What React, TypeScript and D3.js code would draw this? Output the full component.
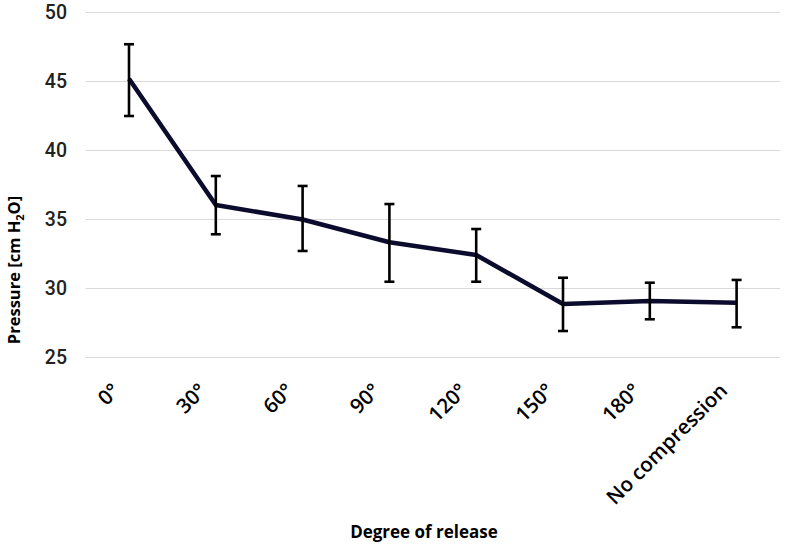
import React from "react";
import * as d3 from "d3";

const categories = ["0°", "30°", "60°", "90°", "120°", "150°", "180°", "No compression"];
const means = [45.2, 36.05, 35.0, 33.35, 32.43, 28.88, 29.09, 28.97];
const upper = [47.7, 38.15, 37.43, 36.12, 34.31, 30.78, 30.42, 30.62];
const lower = [42.5, 33.93, 32.72, 30.49, 30.49, 26.92, 27.77, 27.19];
const yTicks = [25, 30, 35, 40, 45, 50];

const W = 785;
const H = 546;

export default function App() {
  const x = d3.scaleBand<string>().domain(categories).range([85.6, 780]);
  const y = d3.scaleLinear().domain([25, 50]).range([357.5, 12.5]);
  const cx = (c: string) => (x(c) as number) + x.bandwidth() / 2;
  const line = d3
    .line<number>()
    .x((_, i) => cx(categories[i]))
    .y((d) => y(d));
  const cap = 5;

  return (
    <svg width={W} height={H} style={{ position: "absolute", left: 0, top: 0, background: "#fff" }}>
      <rect width={W} height={H} fill="#fff" />
      {yTicks.map((t) => (
        <g key={t}>
          <line x1={85.6} x2={780} y1={y(t)} y2={y(t)} stroke="#d9d9d9" strokeWidth={1.2} />
          <text
            x={67}
            y={y(t)}
            dy="0.35em"
            textAnchor="end"
            fontFamily="Roboto, 'Liberation Sans', sans-serif"
            fontWeight={500}
            fontSize={19.5}
            fill="#222"
          >
            {t}
          </text>
        </g>
      ))}
      <path d={line(means) || ""} fill="none" stroke="#0b0b2e" strokeWidth={4.5} strokeLinejoin="round" />
      {categories.map((c, i) => (
        <g key={c} stroke="#000" strokeWidth={2.6}>
          <line x1={cx(c)} x2={cx(c)} y1={y(upper[i])} y2={y(lower[i])} />
          <line x1={cx(c) - cap} x2={cx(c) + cap} y1={y(upper[i])} y2={y(upper[i])} />
          <line x1={cx(c) - cap} x2={cx(c) + cap} y1={y(lower[i])} y2={y(lower[i])} />
        </g>
      ))}
      {categories.map((c) => (
        <text
          key={"l" + c}
          transform={`translate(${cx(c) - 8},${392}) rotate(-45)`}
          textAnchor="end"
          fontFamily="'Open Sans', sans-serif"
          fontWeight={600}
          fontSize={20.5}
          fill="#000"
        >
          {c}
        </text>
      ))}
      <text
        x={424}
        y={538}
        textAnchor="middle"
        fontFamily="'Open Sans', sans-serif"
        fontWeight={700}
        fontSize={17}
        fill="#000"
      >
        Degree of release
      </text>
      <text
        transform={`translate(20,270) rotate(-90)`}
        textAnchor="middle"
        fontFamily="'Open Sans', sans-serif"
        fontWeight={700}
        fontSize={16.5}
        fill="#000"
      >
        Pressure [cm H<tspan fontSize={11} dy={4}>2</tspan>
        <tspan dy={-4}>O]</tspan>
      </text>
    </svg>
  );
}
